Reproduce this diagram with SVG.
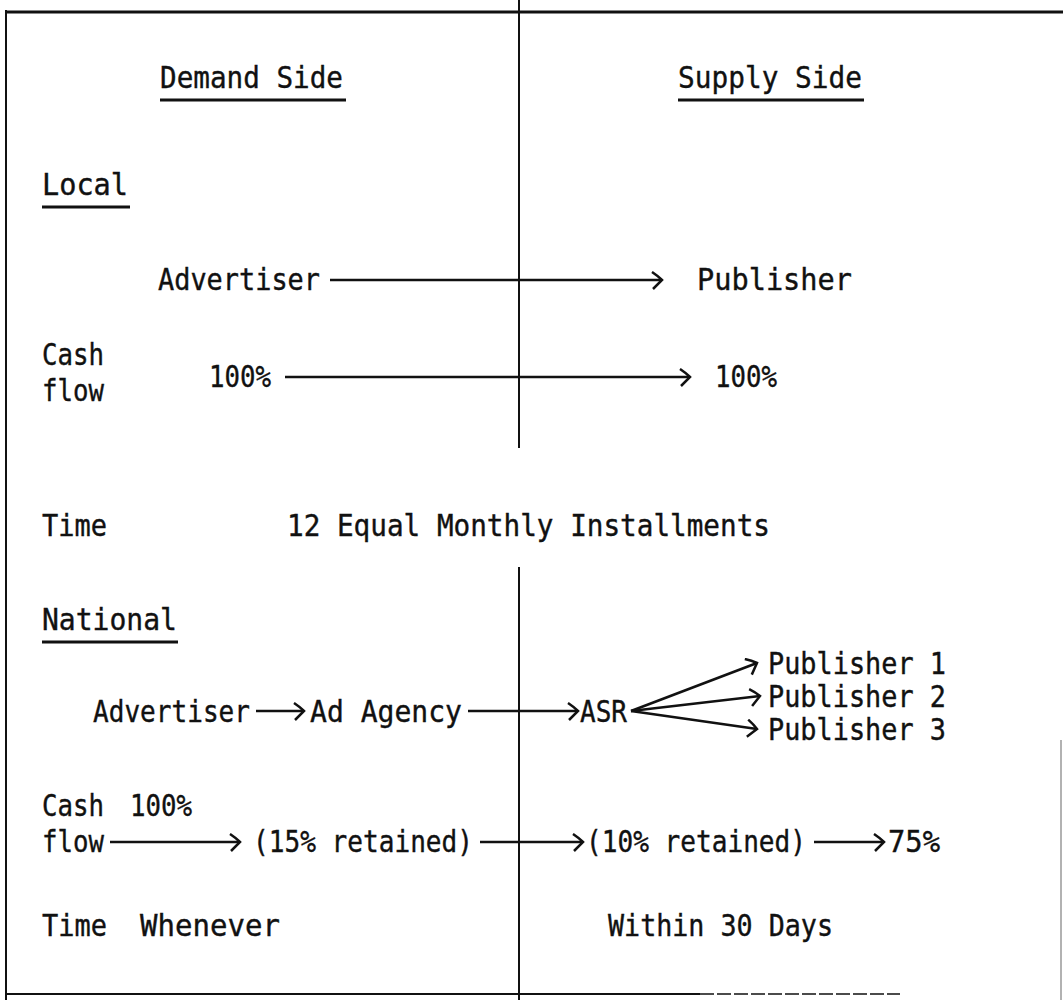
<svg xmlns="http://www.w3.org/2000/svg" width="1063" height="1005" viewBox="0 0 1063 1005">
<defs>
<style>
text{font-family:"DejaVu Sans Mono","Liberation Mono",monospace;font-size:31px;fill:#111;stroke:#111;stroke-width:0.4}
.ln{stroke:#111;stroke-width:2.5;fill:none}
.frame{stroke:#111;stroke-width:2;fill:none}
.ul{stroke:#111;stroke-width:3}
</style>
<marker id="chev" markerUnits="userSpaceOnUse" markerWidth="16" markerHeight="20" refX="12" refY="9" orient="auto">
<path d="M2,1 Q8,5 12,9 Q8,13 3,18" fill="none" stroke="#111" stroke-width="2.5"/>
</marker>
</defs>
<rect width="1063" height="1005" fill="#fff"/>
<g id="frame">
<line class="frame" x1="6" y1="12" x2="1063" y2="12" style="stroke-width:3"/>
<line class="frame" x1="6" y1="10" x2="6" y2="1000"/>
<line class="frame" x1="6" y1="994" x2="700" y2="994"/>
<line class="frame" x1="700" y1="994" x2="900" y2="994" style="stroke-dasharray:14 3;stroke-width:1.5"/>
<line class="frame" x1="1061" y1="740" x2="1061" y2="1000" style="stroke:#999;stroke-width:1.5"/>
<line class="frame" x1="519" y1="0" x2="519" y2="448"/>
<line class="frame" x1="519" y1="567" x2="519" y2="1000"/>
</g>
<g id="headers">
<text x="160" y="88" textLength="183" lengthAdjust="spacingAndGlyphs">Demand Side</text>
<line class="ul" x1="160" y1="100" x2="346" y2="100"/>
<text x="678" y="88" textLength="184" lengthAdjust="spacingAndGlyphs">Supply Side</text>
<line class="ul" x1="678" y1="100" x2="864" y2="100"/>
</g>
<g id="local-label">
<text x="42" y="195" textLength="86" lengthAdjust="spacingAndGlyphs">Local</text>
<line class="ul" x1="42" y1="207" x2="130" y2="207"/>
</g>
<g id="local-advertiser"><text x="158" y="290" textLength="162" lengthAdjust="spacingAndGlyphs">Advertiser</text></g>
<g id="local-publisher"><text x="697" y="290" textLength="155" lengthAdjust="spacingAndGlyphs">Publisher</text></g>
<g id="local-cash">
<text x="42" y="365" textLength="62" lengthAdjust="spacingAndGlyphs">Cash</text>
<text x="42" y="401" textLength="62" lengthAdjust="spacingAndGlyphs">flow</text>
</g>
<g id="local-100a"><text x="209" y="387" textLength="62" lengthAdjust="spacingAndGlyphs">100%</text></g>
<g id="local-100b"><text x="715" y="387" textLength="62" lengthAdjust="spacingAndGlyphs">100%</text></g>
<g id="local-time">
<text x="42" y="536" textLength="65" lengthAdjust="spacingAndGlyphs">Time</text>
<text x="287" y="536" textLength="483" lengthAdjust="spacingAndGlyphs">12 Equal Monthly Installments</text>
</g>
<g id="national-label">
<text x="42" y="630" textLength="135" lengthAdjust="spacingAndGlyphs">National</text>
<line class="ul" x1="42" y1="642" x2="178" y2="642"/>
</g>
<g id="nat-advertiser"><text x="93" y="722" textLength="157" lengthAdjust="spacingAndGlyphs">Advertiser</text></g>
<g id="nat-agency"><text x="310" y="722" textLength="152" lengthAdjust="spacingAndGlyphs">Ad Agency</text></g>
<g id="nat-asr"><text x="580" y="722" textLength="47" lengthAdjust="spacingAndGlyphs">ASR</text></g>
<g id="nat-pub1"><text x="768" y="674" textLength="178" lengthAdjust="spacingAndGlyphs">Publisher 1</text></g>
<g id="nat-pub2"><text x="768" y="707" textLength="178" lengthAdjust="spacingAndGlyphs">Publisher 2</text></g>
<g id="nat-pub3"><text x="768" y="740" textLength="178" lengthAdjust="spacingAndGlyphs">Publisher 3</text></g>
<g id="nat-cash">
<text x="42" y="816" textLength="62" lengthAdjust="spacingAndGlyphs">Cash</text>
<text x="42" y="852" textLength="62" lengthAdjust="spacingAndGlyphs">flow</text>
<text x="130" y="816" textLength="62" lengthAdjust="spacingAndGlyphs">100%</text>
</g>
<g id="nat-15"><text x="253" y="852" textLength="220" lengthAdjust="spacingAndGlyphs">(15% retained)</text></g>
<g id="nat-10"><text x="586" y="852" textLength="220" lengthAdjust="spacingAndGlyphs">(10% retained)</text></g>
<g id="nat-75"><text x="888" y="852" textLength="52" lengthAdjust="spacingAndGlyphs">75%</text></g>
<g id="nat-time">
<text x="42" y="936" textLength="65" lengthAdjust="spacingAndGlyphs">Time</text>
<text x="140" y="936" textLength="140" lengthAdjust="spacingAndGlyphs">Whenever</text>
<text x="608" y="936" textLength="225" lengthAdjust="spacingAndGlyphs">Within 30 Days</text>
</g>
<g id="connectors">
<line class="ln" x1="330" y1="280" x2="662" y2="280" marker-end="url(#chev)"/>
<line class="ln" x1="285" y1="377" x2="690" y2="377" marker-end="url(#chev)"/>
<line class="ln" x1="256" y1="711" x2="304" y2="711" marker-end="url(#chev)"/>
<line class="ln" x1="468" y1="711" x2="578" y2="711" marker-end="url(#chev)"/>
<line class="ln" x1="631" y1="711" x2="757" y2="663" marker-end="url(#chev)"/>
<line class="ln" x1="631" y1="711" x2="760" y2="696" marker-end="url(#chev)"/>
<line class="ln" x1="631" y1="711" x2="757" y2="729" marker-end="url(#chev)"/>
<line class="ln" x1="110" y1="842" x2="240" y2="842" marker-end="url(#chev)"/>
<line class="ln" x1="480" y1="842" x2="583" y2="842" marker-end="url(#chev)"/>
<line class="ln" x1="814" y1="842" x2="884" y2="842" marker-end="url(#chev)"/>
</g>
</svg>
